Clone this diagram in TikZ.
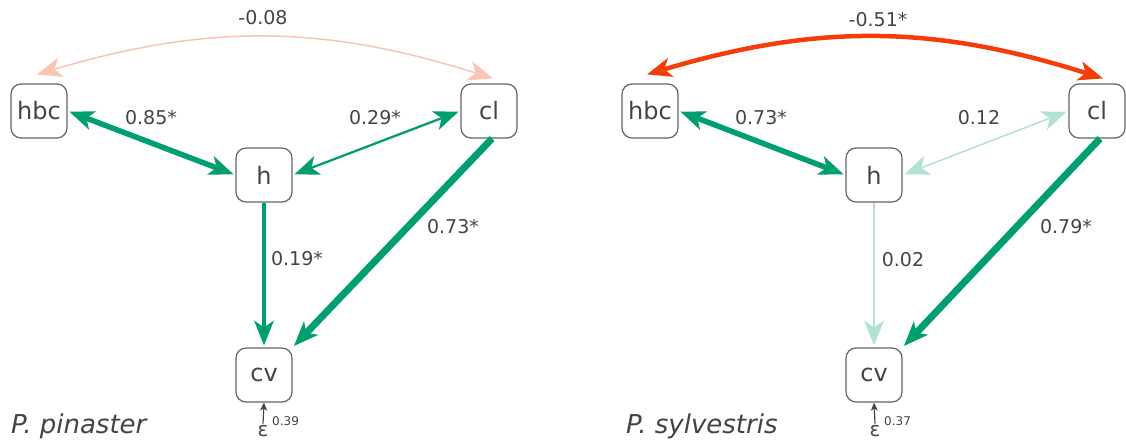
\documentclass[tikz,border=0pt]{standalone}
\usepackage{fontspec}
\setmainfont{DejaVu Sans}
\usetikzlibrary{arrows.meta}

\definecolor{pathgreen}{RGB}{0,158,115}
\definecolor{pathpale}{RGB}{178,226,213}
\definecolor{corred}{RGB}{245,61,10}
\definecolor{corpale}{RGB}{250,196,180}
\definecolor{ink}{RGB}{68,68,68}
\definecolor{frame}{RGB}{100,100,100}

\tikzset{
  var/.style={draw=frame, line width=1.2pt, rounded corners=10pt,
    minimum width=56pt, minimum height=54pt, inner sep=0pt,
    text=ink, font=\fontsize{24}{28}\selectfont},
  coef/.style={text=ink, font=\fontsize{19}{22}\selectfont, inner sep=0pt},
  species/.style={text=ink, font=\fontsize{26}{30}\selectfont\itshape,
    inner sep=0pt, anchor=base west},
  errsym/.style={text=ink, font=\fontsize{20}{24}\selectfont, inner sep=0pt,
    anchor=base},
  errval/.style={text=ink, font=\fontsize{12}{14}\selectfont, inner sep=0pt,
    anchor=west},
  bigtip/.tip={Stealth[length=25pt, width=20pt, inset=7pt, line width=0pt]},
  smalltip/.tip={Stealth[length=8pt, width=7pt, inset=2pt, line width=0pt]},
  both/.style={bigtip-bigtip, shorten <=2pt, shorten >=2pt},
  one/.style={-bigtip, shorten >=2pt},
  errarrow/.style={-smalltip, draw=ink, line width=1.2pt},
}

\begin{document}
\begin{tikzpicture}[x=1pt, y=-1pt]
\useasboundingbox (0,0) rectangle (1126,441);

% ---------- Pinus pinaster ----------
\node[var] (hbc1) at (39,111) {hbc};
\node[var] (h1)   at (264,175) {h};
\node[var] (cl1)  at (489,111) {cl};
\node[var] (cv1)  at (264,375) {cv};

\draw[bigtip-bigtip, draw=corpale, line width=1.5pt]
  ([xshift=-2pt, yshift=9pt]hbc1.north) to[bend left=17]
  ([xshift=4pt, yshift=5pt]cl1.north);
\draw[both, draw=pathgreen, line width=5.5pt] (hbc1.east) -- (h1.west);
\draw[both, draw=pathgreen, line width=2.3pt] (cl1.west) -- (h1.east);
\draw[one, draw=pathgreen, line width=4pt] (h1.south) -- (cv1.north);
\draw[one, draw=pathgreen, line width=7pt]
  ([xshift=3pt]cl1.south) -- (cv1.north east);

\node[coef] (k1) at (263,18)  {-0.08};
\node[coef] (k2) at (151,118) {0.85*};
\node[coef] (k3) at (375,118) {0.29*};
\node[coef] (k4) at (297,259) {0.19*};
\node[coef] (k5) at (453,227) {0.73*};

\node[errsym] (eps1) at (263,436) {ε};
\node[errval] (ev1) at (272,421) {0.39};
\draw[errarrow] ([yshift=1pt]eps1.north) -- (cv1.south);

\node[species] (sp1) at (11,433) {P. pinaster};

% ---------- Pinus sylvestris ----------
\node[var] (hbc2) at (650,111) {hbc};
\node[var] (h2)   at (874,175) {h};
\node[var] (cl2)  at (1097,111) {cl};
\node[var] (cv2)  at (874,375) {cv};

\draw[bigtip-bigtip, draw=corred, line width=4.5pt]
  ([xshift=-3pt, yshift=9pt]hbc2.north) to[bend left=17]
  ([xshift=6pt, yshift=5pt]cl2.north);
\draw[both, draw=pathgreen, line width=5.5pt] (hbc2.east) -- (h2.west);
\draw[both, draw=pathpale, line width=1.5pt] (cl2.west) -- (h2.east);
\draw[one, draw=pathpale, line width=1.8pt] (h2.south) -- (cv2.north);
\draw[one, draw=pathgreen, line width=7pt]
  ([xshift=3pt]cl2.south) -- (cv2.north east);

\node[coef] (m1) at (878,20)  {-0.51*};
\node[coef] (m2) at (761,118) {0.73*};
\node[coef] (m3) at (979,118) {0.12};
\node[coef] (m4) at (903,260) {0.02};
\node[coef] (m5) at (1066,227) {0.79*};

\node[errsym] (eps2) at (875,436) {ε};
\node[errval] (ev2) at (884,421) {0.37};
\draw[errarrow] ([yshift=1pt]eps2.north) -- (cv2.south);

\node[species] (sp2) at (626,433) {P. sylvestris};
\end{tikzpicture}
\end{document}
